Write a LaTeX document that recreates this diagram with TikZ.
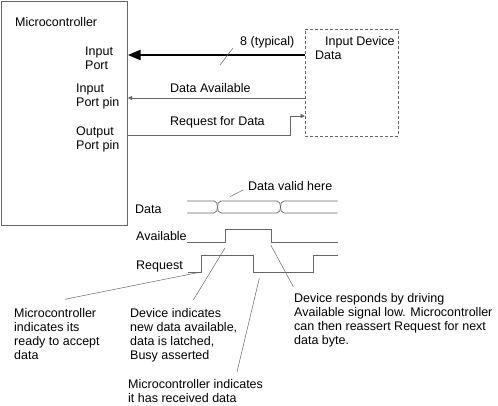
\documentclass[tikz,border=0pt]{standalone}
\usepackage{fontspec}
\setmainfont{Liberation Sans}
\usetikzlibrary{arrows.meta}
\definecolor{lc}{gray}{0.4}
\begin{document}
\begin{tikzpicture}[x=1pt,y=-1pt,
  lbl/.style={inner sep=0pt, anchor=base west, align=left, font=\fontsize{12.5}{14.1}\selectfont},
  thin/.style={draw=lc, line width=0.7pt},
  sig/.style={draw=lc, line width=0.7pt},
  lead/.style={draw=lc, line width=0.5pt},
  boxst/.style={draw=lc, line width=0.7pt, inner sep=0pt, anchor=north west},
  bigarrow/.style={draw=black, line width=2.6pt, -{Triangle[length=13pt,width=10pt]}},
  smallarrow/.style={thin, -{Triangle[length=4.5pt,width=4pt]}}
]
\useasboundingbox (0,0) rectangle (498,406);
% boxes
\node[boxst, minimum width=126pt, minimum height=224pt] (mc) at (1,1) {};
\node[boxst, dash pattern=on 3pt off 2pt, minimum width=93pt, minimum height=107pt] (dev) at (305,29) {};
% labels in boxes (base anchor = last line)
\node[lbl] (mctitle) at (15,26.7) {Microcontroller};
\node[lbl] (inport) at (85,69.5) {Input\\Port};
\node[lbl] (inpin) at (76,106.5) {Input\\Port pin};
\node[lbl] (outpin) at (76,150) {Output\\Port pin};
\node[lbl] (devtxt) at (315,59.5) {\hspace*{10pt}Input Device\\Data};
% connector labels
\node[lbl] (typ) at (240,46) {8 (typical)};
\node[lbl] (davail) at (170,93) {Data Available};
\node[lbl] (rfd) at (170,125.5) {Request for Data};
% connectors
\coordinate (y1) at (0,55);
\coordinate (y2) at (0,98);
\coordinate (y3) at (0,135);
\coordinate (y4) at (0,116);
\coordinate (rq) at (290.7,135);
\draw[bigarrow] (dev.west |- y1) -- (mc.east |- y1);
\draw[lead] (220,65) -- (233,48);
\draw[smallarrow] (dev.west |- y2) -- (mc.east |- y2);
\draw[smallarrow] (mc.east |- y3) -- (rq) |- (dev.west |- y4);
% timing labels
\node[lbl] (tdata) at (135,214) {Data};
\node[lbl] (tavail) at (136,240.5) {Available};
\node[lbl] (treq) at (136,269.5) {Request};
\node[lbl] (dvh) at (248,191) {Data valid here};
% data bus
\draw[sig] (187,201) -- (214,201) to[out=0,in=90] (217.5,207) to[out=-90,in=0] (214,213) -- (187,213);
\draw[sig] (221,201) -- (277,201) to[out=0,in=90] (280.5,207) to[out=-90,in=0] (277,213) -- (221,213)
  to[out=180,in=-90] (217.5,207) to[out=90,in=180] (221,201);
\draw[sig] (337.7,201) -- (284,201) to[out=180,in=90] (280.5,207) to[out=-90,in=180] (284,213) -- (337.7,213);
\coordinate (dvp) at (230,196.7);
\coordinate (dvq) at (243,190);
\draw[lead] (dvp) -- (dvq);
% available
\coordinate (ar) at (225,242.5);
\coordinate (af) at (271.7,242.5);
\draw[sig] (187,242.5) -- (ar) -- (225,229) -- (271.7,229) -- (af) -- (337.7,242.5);
% request
\coordinate (rr) at (201,272);
\coordinate (rf) at (253.3,272);
\draw[sig] (188,272) -- (rr) -- (201,255.5) -- (253.3,255.5) -- (rf) -- (313.3,272) -- (313.3,255.5) -- (337.7,255.5);
% bottom notes
\node[lbl] (n1) at (14,359.3) {Microcontroller\\indicates its\\ready to accept\\data};
\node[lbl] (n2) at (130,359.8) {Device indicates\\new data available,\\data is latched,\\Busy asserted};
\node[lbl] (n3) at (294,344.8) {Device responds by driving\\Available signal low. Microcontroller\\can then reassert Request for next\\data byte.};
\node[lbl] (n4) at (128,402.5) {Microcontroller indicates\\it has received data};
% leader lines
\coordinate (l1) at (65,299.3);
\coordinate (l2) at (193.3,300);
\coordinate (l2e) at (225,248);
\coordinate (l3) at (237,372);
\coordinate (l3e) at (259.3,278.3);
\coordinate (l4) at (293.3,286.7);
\coordinate (l4e) at (270.7,245);
\draw[lead] (l1) -- (rr);
\draw[lead] (l2) -- (l2e);
\draw[lead] (l3) -- (l3e);
\draw[lead] (l4) -- (l4e);
\end{tikzpicture}
\end{document}
